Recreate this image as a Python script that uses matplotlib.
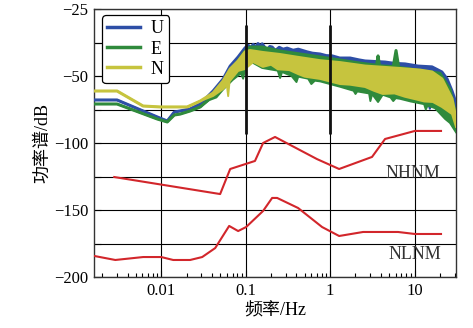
import numpy as np
import matplotlib
matplotlib.use("Agg")
import matplotlib.pyplot as plt
from matplotlib.ticker import FixedLocator, FuncFormatter, LogLocator, NullFormatter
from matplotlib.lines import Line2D

# ---------------- data ----------------
U_f_hi = [0.0016, 0.0030, 0.0090, 0.0118, 0.0143, 0.0168, 0.0220, 0.0290, 0.0412, 0.0542,
          0.0656, 0.0815, 0.0986, 0.108, 0.115, 0.123, 0.132, 0.140, 0.150, 0.157,
          0.170, 0.180, 0.193, 0.206, 0.225, 0.25, 0.278, 0.31, 0.365, 0.42,
          0.534, 0.62, 0.762, 0.9, 1.06, 1.3, 1.73, 2.2, 2.6, 3.4,
          4.48, 5.8, 7.73, 11.0, 16.1, 21.1, 24.3, 27.8, 31.0]
U_db_hi = [-67.9, -67.9, -80.6, -83.6, -76.9, -76.1, -74.6, -70.9, -61.2, -52.2,
           -46.3, -42.9, -39.5, -38.6, -39.6, -38.2, -39.3, -37.9, -39.0, -38.0,
           -39.5, -40.4, -39.0, -39.2, -40.5, -39.3, -40.0, -39.6, -40.4, -40.0,
           -41.0, -41.5, -41.8, -42.4, -42.5, -43.3, -43.3, -44.0, -44.4, -44.6,
           -44.8, -45.3, -45.5, -46.3, -46.6, -48.5, -52.2, -61.2, -70.0]
U_f_lo = [0.0016, 0.0030, 0.0090, 0.0118, 0.0143, 0.0168, 0.0220, 0.0290, 0.0412, 0.0542,
          0.0656, 0.0815, 0.0986, 0.113, 0.157, 0.256, 0.406, 0.762, 1.31, 2.26, 3.91,
          6.73, 11.6, 14.0, 15.2, 16.3, 23.0, 26.3, 31.0]
U_db_lo = [-67.9, -67.9, -80.6, -83.6, -76.9, -76.1, -74.6, -70.9, -64.0, -56.0,
           -50.0, -47.0, -44.0, -42.0, -44.0, -46.0, -48.0, -51.0, -55.0, -58.0, -61.0,
           -63.0, -66.0, -68.0, -74.5, -69.0, -75.0, -80.0, -85.0]

E_f_hi = [0.0016, 0.0030, 0.0090, 0.0118, 0.0143, 0.0168, 0.0220, 0.0290, 0.037, 0.0542,
          0.0656, 0.0815, 0.0986, 0.113, 0.157, 0.256, 0.762, 2.26, 3.55, 3.70, 3.85,
          5.6, 6.04, 6.5, 20.0, 26.3, 31.0]
E_db_hi = [-70.9, -70.9, -82.1, -84.3, -79.1, -78.4, -76.1, -73.1, -67.2, -56.0,
           -48.1, -44.4, -40.7, -39.2, -39.2, -40.7, -42.9, -45.2, -46.0, -42.5, -46.2,
           -46.5, -40.5, -46.8, -49.0, -60.0, -80.0]
E_f_lo = [0.0016, 0.0030, 0.0090, 0.0118, 0.0143, 0.0168, 0.0220, 0.0290, 0.037, 0.045,
          0.0542, 0.070, 0.088, 0.0934, 0.099, 0.113, 0.157, 0.24, 0.256, 0.27, 0.35,
          0.40, 0.42, 0.55, 0.60, 0.66, 0.762, 1.31, 1.9, 2.0, 2.1, 2.9, 3.0, 3.15,
          3.7, 4.2, 5.2, 5.6, 6.0, 6.73, 9.0, 13.0, 13.6, 14.3, 17.5, 23.0, 26.3, 31.0]
E_db_lo = [-70.9, -70.9, -82.1, -84.3, -79.1, -78.4, -76.1, -73.1, -68.0, -66.0,
           -60.0, -53.0, -49.0, -52.0, -47.0, -44.5, -47.0, -48.0, -51.5, -48.5, -50.0,
           -54.5, -50.5, -52.0, -56.0, -53.5, -54.0, -58.0, -61.0, -63.4, -61.5, -63.0,
           -68.7, -63.5, -69.4, -64.0, -66.0, -68.7, -66.5, -67.0, -69.0, -71.0, -75.0,
           -72.0, -74.0, -82.0, -85.0, -92.0]

N_f_hi = [0.0016, 0.0030, 0.0061, 0.0097, 0.0203, 0.0290, 0.0412, 0.0542, 0.0656, 0.0815,
          0.0986, 0.113, 0.157, 0.256, 0.406, 0.762, 1.31, 2.6, 6.73, 11.6, 16.1, 21.1,
          27.8, 31.0]
N_db_hi = [-61.2, -61.2, -72.4, -73.1, -73.1, -68.7, -62.7, -53.7, -47.4, -44.4,
           -41.0, -40.5, -41.2, -42.0, -43.0, -44.3, -45.0, -46.3, -47.2, -47.8, -48.5, -52.2,
           -67.0, -82.0]
N_f_lo = [0.0016, 0.0030, 0.0061, 0.0097, 0.0203, 0.0290, 0.0412, 0.0542, 0.0600, 0.0621,
          0.0645, 0.0815, 0.0986, 0.123, 0.16, 0.2, 0.24, 0.33, 0.42, 0.5, 0.762,
          1.31, 1.73, 2.6, 3.3, 4.2, 5.8, 7.7, 10.0, 13.0, 16.5, 21.1, 27.8, 31.0]
N_db_lo = [-61.2, -61.2, -72.4, -73.1, -73.1, -68.7, -64.9, -59.7, -57.0, -65.0,
           -54.0, -48.1, -47.4, -44.8, -46.6, -45.8, -47.5, -47.8, -49.3, -50.5, -52.2,
           -56.0, -56.5, -58.2, -61.0, -63.4, -63.0, -65.5, -67.2, -69.0, -69.4, -73.1,
           -78.4, -88.0]

nhnm_f = [0.00278, 0.0499, 0.0656, 0.129, 0.161, 0.223, 0.70, 1.28, 3.14, 4.48, 10.1, 20.6]
nhnm_db = [-125.4, -138.1, -119.4, -113.4, -100.0, -95.5, -112.0, -119.4, -110.4, -97.0, -91.0, -91.0]

nlnm_f = [0.00161, 0.00286, 0.00612, 0.01, 0.01387, 0.0220, 0.0306, 0.0436, 0.0638, 0.0815,
          0.1014, 0.161, 0.206, 0.236, 0.418, 0.804, 1.28, 2.46, 6.38, 10.1, 20.6]
nlnm_db = [-184.3, -187.3, -185.1, -185.1, -187.3, -187.3, -185.1, -178.4, -161.9, -165.7,
           -162.7, -150.7, -141.0, -141.0, -148.5, -162.7, -169.4, -166.4, -166.4, -167.9, -167.9]

series_names = ["U", "E", "N"]
x_ticks = [0.01, 0.1, 1, 10]
x_ticklabels = ["0.01", "0.1", "1", "10"]
y_major = [-200, -150, -100, -50, -25]
y_minor = [-175, -125, -75, -37.5]
frame_f = [0.1, 1.0]          # dark frame lines of the pasted spectrum panel
frame_db = (-93, -31)

# ---------------- style ----------------
plt.rcParams['font.family'] = ['Liberation Serif', 'Noto Sans CJK SC', 'DejaVu Sans']
c_U, c_E, c_N = '#2d4ea6', '#2f8a3c', '#c6c43e'
c_red = '#d2262b'

def fwd(v):
    v = np.asarray(v, float)
    return np.where(v > -50, -50 + (v + 50) * 2.0, v)

def inv(t):
    t = np.asarray(t, float)
    return np.where(t > -50, -50 + (t + 50) / 2.0, t)

fig = plt.figure(figsize=(4.73, 3.28), dpi=100)
ax = fig.add_axes([94/473, 1 - 277/328, 362/473, 268/328])
ax.set_xscale('log')
ax.set_yscale('function', functions=(fwd, inv))
ax.set_xlim(0.0016, 31)
ax.set_ylim(-200, -25)

ax.yaxis.set_major_locator(FixedLocator(y_major))
ax.yaxis.set_minor_locator(FixedLocator(y_minor))
ax.yaxis.set_major_formatter(FuncFormatter(lambda v, p: f"{v:g}".replace('-', '\u2212')))
ax.xaxis.set_major_locator(FixedLocator(x_ticks))
ax.set_xticklabels(x_ticklabels)
ax.xaxis.set_minor_locator(LogLocator(base=10, subs=np.arange(2, 10)))
ax.xaxis.set_minor_formatter(NullFormatter())
ax.grid(True, which='major', axis='both', color='black', lw=0.8, zorder=0)
ax.grid(True, which='minor', axis='y', color='black', lw=0.8, zorder=0)

def band(fh, dh, fl, dl, col, z):
    xs = np.concatenate([fh, fl[::-1]])
    ys = np.concatenate([dh, dl[::-1]])
    ax.fill(xs, ys, color=col, lw=0, zorder=z)
    ax.plot(fh, dh, color=col, lw=2.2, zorder=z, solid_joinstyle='round')
    ax.plot(fl, dl, color=col, lw=1.4, zorder=z, solid_joinstyle='round')

band(np.array(U_f_hi), np.array(U_db_hi), np.array(U_f_lo), np.array(U_db_lo), c_U, 3)
band(np.array(E_f_hi), np.array(E_db_hi), np.array(E_f_lo), np.array(E_db_lo), c_E, 4)
band(np.array(N_f_hi), np.array(N_db_hi), np.array(N_f_lo), np.array(N_db_lo), c_N, 5)

ax.vlines(frame_f, frame_db[0], frame_db[1], color='#111111', lw=2.0, zorder=6)

ax.plot(nhnm_f, nhnm_db, color=c_red, lw=1.5, zorder=6)
ax.plot(nlnm_f, nlnm_db, color=c_red, lw=1.5, zorder=6)
ax.text(9.6, -123.0, 'NHNM', ha='center', va='center', fontsize=13, color='#333333')
ax.text(10.0, -183.0, 'NLNM', ha='center', va='center', fontsize=13, color='#333333')

ax.tick_params(axis='both', which='major', direction='in', length=5, width=0.8,
               labelsize=12, pad=4, colors='black')
ax.tick_params(axis='x', which='minor', direction='in', length=3, width=0.8)
ax.tick_params(axis='y', which='minor', direction='in', length=5, width=0.8)
for s in ax.spines.values():
    s.set_color('#333333')
    s.set_linewidth(1.0)

ax.set_xlabel('频率/Hz', fontsize=13, labelpad=3)
ax.set_ylabel('功率谱/dB', fontsize=13, labelpad=2)

handles = [Line2D([], [], color=c, lw=2.5) for c in (c_U, c_E, c_N)]
leg = ax.legend(handles, series_names, loc='upper left', bbox_to_anchor=(0.022, 0.978),
                borderaxespad=0, fontsize=13, handlelength=1.8, handletextpad=0.6,
                labelspacing=0.18, borderpad=0.3, frameon=True, fancybox=True)
leg.get_frame().set_edgecolor('black')
leg.get_frame().set_linewidth(0.9)
leg.get_frame().set_alpha(1)
leg.set_zorder(10)

fig.savefig('out.png', dpi=100)
